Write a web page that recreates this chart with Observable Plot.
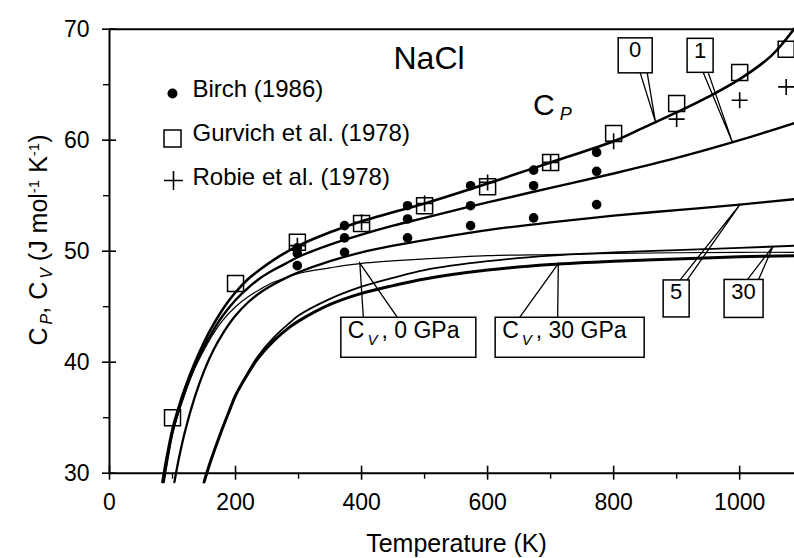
<!DOCTYPE html>
<html><head><meta charset="utf-8">
<script src="https://cdn.jsdelivr.net/npm/d3@7"></script>
<script src="https://cdn.jsdelivr.net/npm/@observablehq/plot@0.6"></script>
<style>
html,body{margin:0;padding:0;background:#fff;}
#chart svg{display:block;}
</style></head><body><div id="chart"></div>
<script>
// ---- measured data: temperature (K), heat capacity (J mol-1 K-1) ----
const birchT  = [298, 373, 473, 573, 673, 773];
const birchA  = [50.3, 52.3, 54.1, 55.9, 57.3, 58.9];
const birchB  = [49.8, 51.2, 52.9, 54.1, 55.9, 57.2];
const birchC  = [48.7, 49.9, 51.2, 52.3, 53.0, 54.2];
const gurvichT  = [100, 200, 298.15, 400, 500, 600, 700, 800, 900, 1000, 1073.8];
const gurvichCp = [35.0, 47.1, 50.8, 52.5, 54.1, 55.8, 58.0, 60.6, 63.3, 66.1, 68.2];
const robieT  = [298.15, 400, 500, 600, 700, 800, 900, 1000, 1073.8];
const robieCp = [50.5, 52.6, 54.3, 56.2, 58.0, 59.9, 61.9, 63.6, 64.8];

// ---- model curves ----
const cp0T = [84, 90, 100, 110, 120, 135, 150, 165, 180, 200, 220, 240, 260, 280, 300, 350, 400, 450, 500, 600, 700, 800, 850, 900, 950, 1000, 1050, 1090];
const cp0  = [29.2, 31.2, 34.0, 36.0, 37.7, 39.9, 41.8, 43.4, 44.8, 46.3, 47.5, 48.4, 49.2, 49.9, 50.5, 51.7, 52.7, 53.5, 54.3, 56.1, 58.0, 59.9, 61.2, 62.5, 63.9, 65.5, 67.6, 70.3];
const cp1T = [86, 92, 100, 110, 120, 135, 150, 165, 180, 200, 220, 240, 260, 280, 300, 350, 400, 450, 500, 600, 700, 800, 900, 1000, 1090];
const cp1  = [29.2, 31.3, 33.7, 35.7, 37.4, 39.6, 41.4, 42.9, 44.2, 45.6, 46.7, 47.6, 48.3, 48.9, 49.5, 50.6, 51.5, 52.3, 53.0, 54.4, 55.7, 57.0, 58.4, 60.0, 61.6];
const cp5T = [103, 110, 120, 135, 150, 165, 180, 200, 220, 240, 260, 280, 300, 350, 400, 450, 500, 600, 700, 800, 900, 1000, 1090];
const cp5  = [29.2, 31.3, 33.8, 36.8, 39.2, 41.1, 42.6, 44.2, 45.4, 46.3, 47.0, 47.6, 48.1, 49.1, 49.9, 50.5, 51.0, 51.9, 52.6, 53.2, 53.7, 54.2, 54.7];
const cp30T = [150, 160, 175, 190, 200, 220, 235, 260, 287, 300, 350, 400, 450, 500, 600, 700, 800, 900, 1000, 1090];
const cp30  = [29.2, 31.0, 33.4, 35.6, 37.0, 39.1, 40.5, 42.2, 43.6, 44.2, 45.7, 46.8, 47.6, 48.3, 49.1, 49.6, 49.9, 50.1, 50.3, 50.5];
const cv0T = [86, 92, 100, 110, 120, 135, 150, 165, 180, 200, 220, 240, 260, 280, 300, 350, 400, 500, 600, 700, 800, 1000, 1090];
const cv0  = [29.2, 31.2, 33.5, 35.5, 37.2, 39.4, 41.1, 42.6, 43.8, 45.0, 45.9, 46.6, 47.2, 47.6, 48.0, 48.5, 48.9, 49.3, 49.6, 49.7, 49.8, 49.9, 49.9];
const cv30T = [150, 160, 175, 190, 200, 220, 235, 260, 287, 300, 350, 400, 450, 500, 600, 700, 800, 900, 1000, 1090];
const cv30  = [29.2, 31.0, 33.4, 35.6, 37.0, 39.0, 40.3, 41.9, 43.2, 43.7, 45.2, 46.2, 46.9, 47.5, 48.3, 48.8, 49.1, 49.3, 49.5, 49.6];

// ---- ticks and labels ----
const xMajor = [0, 200, 400, 600, 800, 1000];
const xMinor = [100, 300, 500, 700, 900];
const yMajor = [30, 40, 50, 60, 70];
const yMinor = [35, 45, 55, 65];
const legendLabels = ["Birch (1986)", "Gurvich et al. (1978)", "Robie et al. (1978)"];
const pressureLabels = ["0", "1", "5", "30"];
const pressureTipT = [867, 989, 1002, 1054];
const cvLabels = ["0 GPa", "30 GPa"];
const cvTipT = [398, 713];

// ---- layout ----
const FONT = "'Liberation Sans', Arial, Helvetica, sans-serif";
const W = 794, H = 558, mL = 109, mR = 0, mT = 28.7, mB = 85.3;
const frameW = W - mL - mR, frameH = H - mT - mB;

const rows = (T, V) => T.map((t, i) => ({T: t, C: V[i]}));
const birchData = [...rows(birchT, birchA), ...rows(birchT, birchB), ...rows(birchT, birchC)];

const curves = [
  {T: cp0T, V: cp0, w: 2.6},
  {T: cp1T, V: cp1, w: 2.4},
  {T: cp5T, V: cp5, w: 2.3},
  {T: cp30T, V: cp30, w: 1.8},
  {T: cv0T, V: cv0, w: 1.2},
  {T: cv30T, V: cv30, w: 3.0}
];

function interp(Ts, Vs, t) {
  for (let i = 1; i < Ts.length; i++) {
    if (t <= Ts[i]) { const f = (t - Ts[i-1]) / (Ts[i] - Ts[i-1]); return Vs[i-1] + f * (Vs[i] - Vs[i-1]); }
  }
  return Vs[Vs.length - 1];
}

const squareSym = {draw(ctx, size) { const r = Math.sqrt(size / Math.PI); ctx.rect(-r, -r, 2 * r, 2 * r); }};
const plusSym = {draw(ctx, size) { const r = Math.sqrt(size / Math.PI); ctx.moveTo(-r, 0); ctx.lineTo(r, 0); ctx.moveTo(0, -r); ctx.lineTo(0, r); }};

// callout layout (box centre in data units, box size & pointer base offsets in px)
const pressureBoxes = [
  {curve: curves[0], bx: 835, by: 67.6, w: 34, h: 35, base: [5, 12], side: "bottom"},
  {curve: curves[1], bx: 938, by: 67.6, w: 26, h: 34, base: [3, 8], side: "bottom"},
  {curve: curves[2], bx: 900, by: 45.7, w: 26, h: 37, base: [4, 11], side: "top"},
  {curve: curves[3], bx: 1007, by: 45.7, w: 39, h: 38, base: [4, 15], side: "top"}
];
const cvBoxes = [
  {curve: curves[4], bx: 475, by: 42.2, w: 135, h: 40, base: [-45, -11]},
  {curve: curves[5], bx: 731, by: 42.2, w: 149, h: 40, base: [-50, -12]}
];

function annotations(index, scales) {
  const {x, y} = scales;
  const g = d3.create("svg:g").attr("font-family", FONT).attr("fill", "black").attr("text-anchor", "start");
  pressureBoxes.forEach((b, i) => {
    const tx = x(pressureTipT[i]), ty = y(interp(b.curve.T, b.curve.V, pressureTipT[i]));
    const cx = x(b.bx), cy = y(b.by);
    const x0 = cx - b.w / 2, y0 = cy - b.h / 2;
    const ey = b.side === "bottom" ? y0 + b.h : y0;
    g.append("rect").attr("x", x0).attr("y", y0).attr("width", b.w).attr("height", b.h)
      .attr("fill", "white").attr("stroke", "black").attr("stroke-width", 1.5);
    g.append("path").attr("d", `M${cx + b.base[0]},${ey}L${tx},${ty}L${cx + b.base[1]},${ey}`)
      .attr("fill", "none").attr("stroke", "black").attr("stroke-width", 1.3);
    g.append("text").attr("x", cx).attr("y", y0 + 19.5).attr("text-anchor", "middle")
      .attr("font-size", 22).text(pressureLabels[i]);
  });
  cvBoxes.forEach((b, i) => {
    const tx = x(cvTipT[i]), ty = y(interp(b.curve.T, b.curve.V, cvTipT[i]));
    const cx = x(b.bx), cy = y(b.by);
    const x0 = cx - b.w / 2, y0 = cy - b.h / 2;
    g.append("rect").attr("x", x0).attr("y", y0).attr("width", b.w).attr("height", b.h)
      .attr("fill", "white").attr("stroke", "black").attr("stroke-width", 1.5);
    g.append("path").attr("d", `M${cx + b.base[0]},${y0}L${tx},${ty}L${cx + b.base[1]},${y0}`)
      .attr("fill", "none").attr("stroke", "black").attr("stroke-width", 1.3);
    const t = g.append("text").attr("x", x0 + 7).attr("y", cy + 1).attr("font-size", 23).attr("text-anchor", "start");
    t.append("tspan").text("C");
    t.append("tspan").attr("font-size", 15).attr("font-style", "italic").attr("dx", 3).attr("dy", 7).text("V");
    t.append("tspan").attr("dy", -7).attr("dx", 4).text(", " + cvLabels[i]);
  });
  // C_P label
  const cp = g.append("text").attr("x", x(673)).attr("y", y(62.2)).attr("font-size", 30).attr("text-anchor", "start");
  cp.append("tspan").text("C");
  cp.append("tspan").attr("font-size", 18).attr("font-style", "italic").attr("dx", 5).attr("dy", 5).text("P");
  // y-axis title
  const yt = g.append("text").attr("transform", "translate(47,240) rotate(-90)")
    .attr("text-anchor", "middle").attr("font-size", 25);
  yt.append("tspan").text("C");
  yt.append("tspan").attr("font-size", 16).attr("font-style", "italic").attr("dx", 3).attr("dy", 5).text("P");
  yt.append("tspan").attr("dy", -5).text(", C");
  yt.append("tspan").attr("font-size", 16).attr("font-style", "italic").attr("dx", 3).attr("dy", 5).text("V");
  yt.append("tspan").attr("dy", -5).text(" (J mol");
  yt.append("tspan").attr("font-size", 15).attr("dy", -8).text("-1");
  yt.append("tspan").attr("dy", 8).text(" K");
  yt.append("tspan").attr("font-size", 15).attr("dy", -8).text("-1");
  yt.append("tspan").attr("dy", 8).text(")");
  return g.node();
}

const legendDy = [64.3, 109.3, 151.3];
const legendTextDy = [68.0, 111.3, 156.0];

const chart = Plot.plot({
  width: W, height: H,
  marginLeft: mL, marginRight: mR, marginTop: mT, marginBottom: mB,
  x: {domain: [0, 1087]},
  y: {domain: [30, 70]},
  style: {fontFamily: FONT, background: "white", color: "black"},
  marks: [
    annotations,
    ...curves.map(c => Plot.line(rows(c.T, c.V), {x: "T", y: "C", curve: "catmull-rom", stroke: "black", strokeWidth: c.w})),
    Plot.dot(birchData, {x: "T", y: "C", r: 4.8, fill: "black"}),
    Plot.dot(rows(gurvichT, gurvichCp), {x: "T", y: "C", r: 8, symbol: squareSym, fill: "none", stroke: "black", strokeWidth: 1.5}),
    Plot.dot(rows(robieT, robieCp), {x: "T", y: "C", r: 8, symbol: plusSym, fill: "none", stroke: "black", strokeWidth: 1.6}),
    Plot.ruleY([70], {strokeWidth: 2}),
    Plot.ruleY([30], {strokeWidth: 2}),
    Plot.ruleX([0], {strokeWidth: 2}),
    Plot.tickX(xMajor, {x: d => d, insetTop: frameH - 7, insetBottom: -7, strokeWidth: 1.6}),
    Plot.tickX(xMinor, {x: d => d, insetTop: frameH, insetBottom: -6, strokeWidth: 1.4}),
    Plot.tickY(yMajor, {y: d => d, insetLeft: -7, insetRight: frameW - 7, strokeWidth: 1.6}),
    Plot.tickY(yMinor, {y: d => d, insetLeft: -6, insetRight: frameW, strokeWidth: 1.4}),
    Plot.axisX({ticks: xMajor, tickSize: 0, tickPadding: 20, fontSize: 23, label: null, tickFormat: d => String(d)}),
    Plot.axisY({ticks: yMajor, tickSize: 0, tickPadding: 20, fontSize: 23, label: null, tickFormat: d => String(d)}),
    Plot.text(["Temperature (K)"], {text: d => d, frameAnchor: "bottom", dx: 4.5, dy: 78.3, lineAnchor: "bottom", fontSize: 25}),
    Plot.text(["NaCl"], {text: d => d, frameAnchor: "top-left", dx: 284, dy: 39.3, textAnchor: "start", lineAnchor: "bottom", fontSize: 32}),
    Plot.dot([0], {frameAnchor: "top-left", dx: 63, dy: legendDy[0], r: 5, fill: "black"}),
    Plot.dot([0], {frameAnchor: "top-left", dx: 63, dy: legendDy[1], r: 8.5, symbol: squareSym, fill: "none", stroke: "black", strokeWidth: 1.5}),
    Plot.dot([0], {frameAnchor: "top-left", dx: 64, dy: legendDy[2], r: 9.5, symbol: plusSym, fill: "none", stroke: "black", strokeWidth: 1.6}),
    ...legendLabels.map((t, i) => Plot.text([t], {text: d => d, frameAnchor: "top-left", dx: 83, dy: legendTextDy[i], textAnchor: "start", lineAnchor: "bottom", fontSize: 24}))
  ]
});
document.getElementById("chart").append(chart);
</script>
</body></html>
